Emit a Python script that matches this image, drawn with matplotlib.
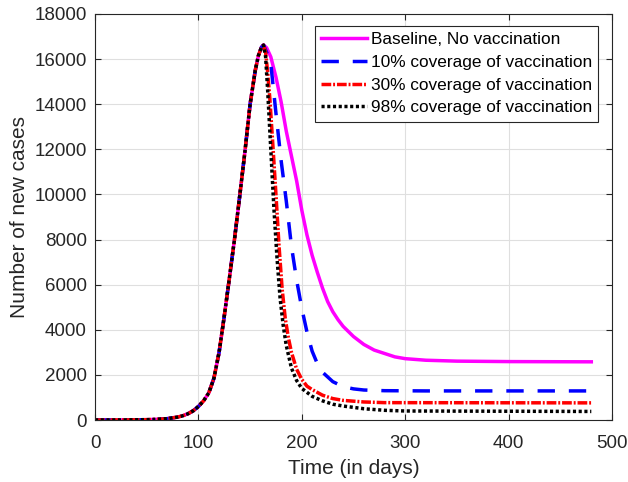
import numpy as np
import matplotlib.pyplot as plt

plt.rcParams['font.family'] = ['Liberation Sans', 'DejaVu Sans']

# common rising part
rise_t = [0, 30, 50, 60, 70, 80, 85, 90, 95, 100, 105, 110, 115, 120, 125, 130,
          135, 140, 145, 150, 155, 158, 161]
rise_v = [0, 5, 15, 30, 60, 130, 190, 280, 410, 600, 850, 1200, 1850, 3000, 4600,
          6300, 8050, 9950, 11900, 14000, 15500, 16150, 16530]

# decay parts, from the peak on
base_t = [163, 166, 170, 175, 180, 185, 190, 195, 200, 205, 210, 215, 220, 225,
          230, 235, 240, 250, 260, 270, 280, 290, 300, 320, 350, 400, 480]
base_v = [16620, 16500, 16100, 15200, 14100, 12800, 11700, 10600, 9300, 8200, 7300,
          6550, 5850, 5250, 4800, 4450, 4150, 3700, 3350, 3100, 2950, 2800, 2720,
          2650, 2610, 2590, 2580]

v10_t = [163, 166, 170, 175, 180, 185, 190, 195, 200, 205, 210, 215, 220, 230, 240,
         250, 260, 280, 320, 480]
v10_v = [16620, 16300, 15800, 13600, 11500, 9700, 7700, 6200, 4950, 3900, 3050,
         2500, 2120, 1700, 1480, 1380, 1330, 1300, 1290, 1290]

v30_t = [163, 165, 167, 169, 172, 175, 178, 181, 184, 187, 190, 195, 200, 205, 210,
         220, 230, 240, 260, 280, 480]
v30_v = [16620, 16300, 15400, 14300, 12200, 10000, 7700, 5800, 4500, 3650, 3000,
         2250, 1800, 1500, 1350, 1100, 950, 870, 800, 770, 760]

v98_t = [163, 165, 167, 170, 173, 176, 179, 182, 185, 190, 195, 200, 210, 220, 230,
         240, 260, 280, 300, 480]
v98_v = [16620, 16100, 14600, 12000, 9400, 7200, 5400, 4200, 3300, 2300, 1750, 1400,
         1050, 850, 700, 620, 500, 430, 400, 380]

labels = ['Baseline, No vaccination', '10% coverage of vaccination',
          '30% coverage of vaccination', '98% coverage of vaccination']

fig = plt.figure(figsize=(6.28, 4.82), dpi=100)
ax = fig.add_axes([0.1513, 0.1286, 0.8232, 0.8424])

series = [(base_t, base_v), (v10_t, v10_v), (v30_t, v30_v), (v98_t, v98_v)]
colors = ['#ff00ff', '#0000ff', '#ff0000', '#000000']
styles = ['-', (0, (5, 4)), (0, (2.8, 0.55, 0.55, 0.55)), (0, (0.9, 0.75))]
for (t, v), c, ls, lab in zip(series, colors, styles, labels):
    ax.plot(rise_t + t, rise_v + v, color=c, ls=ls, lw=2.5, label=lab)

ax.set_xlim(0, 500)
ax.set_ylim(0, 18000)
ax.set_xticks(np.arange(0, 501, 100))
ax.set_yticks(np.arange(0, 18001, 2000))
ax.grid(True, color='#dfdfdf', lw=0.8)
ax.set_axisbelow(True)
ax.tick_params(direction='in', labelsize=13.5, length=4, colors='#262626',
               top=True, right=True, pad=6)
ax.tick_params(axis='x', pad=10.5)
for s in ax.spines.values():
    s.set_color('#262626')
    s.set_linewidth(0.8)
ax.set_xlabel('Time (in days)', fontsize=15, color='#262626', labelpad=5)
ax.set_ylabel('Number of new cases', fontsize=15, color='#262626', labelpad=4)

leg = ax.legend(loc='upper right', bbox_to_anchor=(0.973, 0.9704), fontsize=12.4,
                fancybox=False, framealpha=1, edgecolor='#262626', handlelength=2.7,
                borderpad=0.35, labelspacing=0.45, handletextpad=0.2, borderaxespad=0)
leg.get_frame().set_linewidth(0.8)

fig.savefig('out.png', dpi=100)
